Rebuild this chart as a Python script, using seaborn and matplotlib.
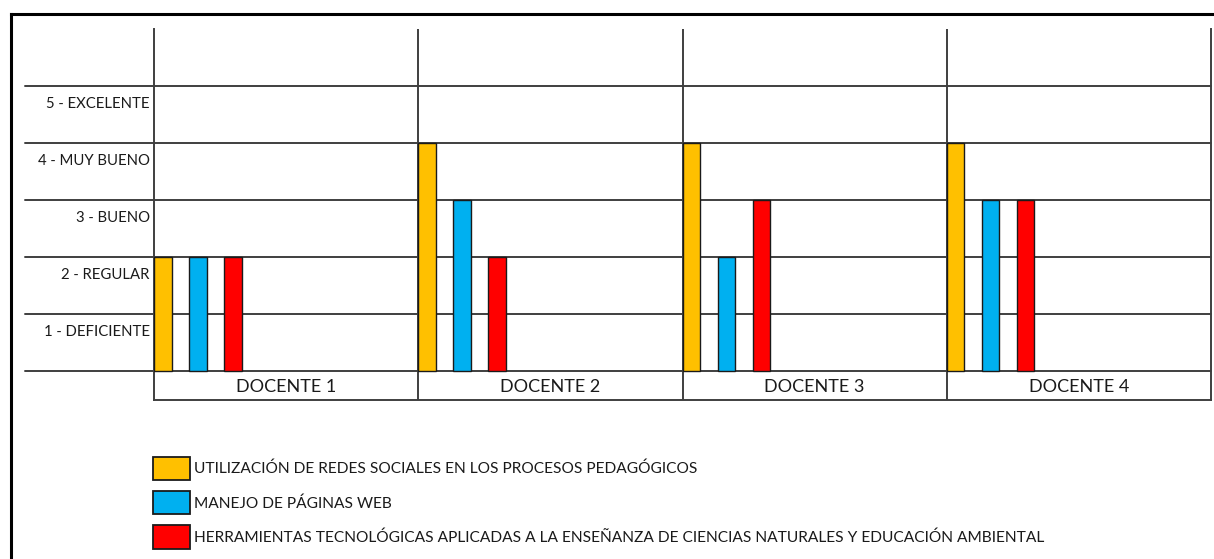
import matplotlib
matplotlib.use("Agg")
import matplotlib.pyplot as plt
import seaborn as sns
import pandas as pd
from matplotlib.patches import Patch
from matplotlib.lines import Line2D

docentes = ["DOCENTE 1", "DOCENTE 2", "DOCENTE 3", "DOCENTE 4"]
criterios = [
    "UTILIZACIÓN DE REDES SOCIALES EN LOS PROCESOS PEDAGÓGICOS",
    "MANEJO DE PÁGINAS WEB",
    "HERRAMIENTAS TECNOLÓGICAS APLICADAS A LA ENSEÑANZA DE CIENCIAS NATURALES Y EDUCACIÓN AMBIENTAL",
]
redes_sociales = [2, 4, 4, 4]
paginas_web = [2, 3, 2, 3]
herramientas = [2, 2, 3, 3]
niveles = [1, 2, 3, 4, 5]
etiquetas_niveles = ["1 - DEFICIENTE", "2 - REGULAR", "3 - BUENO", "4 - MUY BUENO", "5 - EXCELENTE"]
colores = ["#FFC000", "#00B0F0", "#FF0000"]

rows = []
for serie, vals in zip(criterios, [redes_sociales, paginas_web, herramientas]):
    for d, v in zip(docentes, vals):
        rows.append({"docente": d, "criterio": serie, "valor": v})
df = pd.DataFrame(rows)

sns.set_style("white")
FONT = ["Lato", "DejaVu Sans"]
plt.rcParams["font.family"] = FONT
FS_Y = 10.7
FS_LEG = 11.13
FS_CAT = 13
TXT = "#1a1a1a"
LINE = "#3f3f3f"

W, H = 1214, 559
fig = plt.figure(figsize=(W / 100, H / 100), dpi=100)
ax_left, ax_right, ax_top, ax_bot = 154, 1211, 29, 400
ax = fig.add_axes([ax_left / W, 1 - ax_bot / H, (ax_right - ax_left) / W, (ax_bot - ax_top) / H])

slot = 35 / 264
width = 3 * slot
gap = 0.5
sns.barplot(data=df, x="docente", y="valor", hue="criterio", order=docentes,
            hue_order=criterios, palette=colores, saturation=1, width=width, gap=gap,
            errorbar=None, edgecolor="#1a1a1a", linewidth=1.0, legend=False,
            ax=ax, zorder=3)

off = width / 2 - slot * gap / 2  # cell left edge relative to category center
ax.set_xlim(-off, len(docentes) - off)
row_px = 57
ax.set_ylim(-(ax_bot - 371) / row_px, 6)

# horizontal table lines (extend into label column)
ext = -(ax_left - 25) / (ax_right - ax_left)
for v in [0] + niveles:
    ax.axhline(v, xmin=ext, xmax=1, color=LINE, lw=1.4, clip_on=False, zorder=1)
# vertical cell lines
for i in range(1, len(docentes)):
    ax.axvline(i - off, color=LINE, lw=1.4, zorder=1)

for s in ["left", "right", "bottom"]:
    ax.spines[s].set_visible(True)
    ax.spines[s].set_color(LINE)
    ax.spines[s].set_linewidth(1.4)
ax.spines["top"].set_visible(False)

ax.set_xticks([])
ax.set_yticks([v - 0.29 for v in niveles])
ax.set_yticklabels(etiquetas_niveles, fontsize=FS_Y, color=TXT)
ax.tick_params(axis="y", length=0, pad=3)
ax.set_xlabel("")
ax.set_ylabel("")

ymid = -(ax_bot - 371) / row_px / 2
for i, d in enumerate(docentes):
    ax.text(i - off + 0.5, ymid, d, ha="center", va="center_baseline",
            fontsize=FS_CAT, color=TXT)

# legend
fs_px = FS_LEG * 100 / 72
patch_h = 23.3
hh = (patch_h / fs_px - 0.245) / 0.65
handles = [Patch(facecolor=c, edgecolor="#1a1a1a", linewidth=1.3) for c in colores]
fig.legend(handles, criterios, loc="upper left",
           bbox_to_anchor=(153 / W, 1 - 456.7 / H),
           frameon=False, fontsize=FS_LEG, handlelength=37 / fs_px,
           handleheight=hh,
           labelspacing=(34.3 - patch_h) / fs_px, handletextpad=4 / fs_px,
           borderpad=0, borderaxespad=0, labelcolor=TXT)

# outer frame
fig.add_artist(Line2D([10.5 / W, 10.5 / W], [0, 1 - 13.5 / H], color="black", lw=2.2,
                      solid_capstyle="projecting", transform=fig.transFigure))
fig.add_artist(Line2D([10.5 / W, 1], [1 - 13.5 / H, 1 - 13.5 / H], color="black", lw=2.2,
                      solid_capstyle="projecting", transform=fig.transFigure))

fig.savefig("out.png", dpi=100)
